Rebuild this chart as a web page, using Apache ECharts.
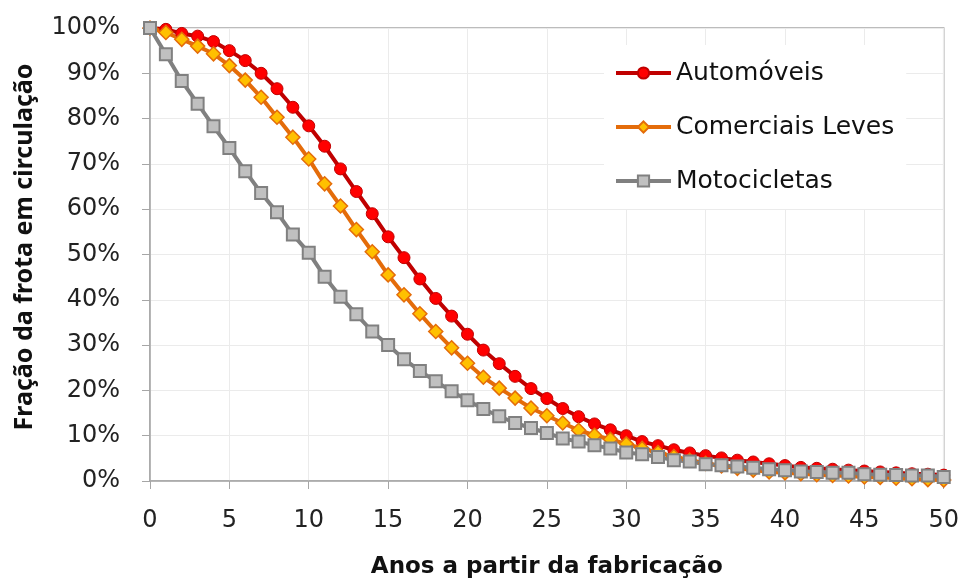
<!DOCTYPE html>
<html>
<head>
<meta charset="utf-8">
<script src="https://cdn.jsdelivr.net/npm/echarts@6/dist/echarts.min.js"></script>
<style>
  html, body { margin: 0; padding: 0; background: #fff; }
  #chart { width: 962px; height: 584px; }
</style>
</head>
<body>
<div id="chart"></div>
<script>
// anos 0..50
var anos = [];
for (var i = 0; i <= 50; i++) anos.push(i);

// fração da frota em circulação (%)
var automoveis = [100, 99.7, 98.8, 98.2, 97.0, 95.0, 92.8, 90.0, 86.6, 82.5,
  78.4, 73.9, 68.9, 63.9, 59.0, 53.9, 49.3, 44.6, 40.3, 36.4,
  32.4, 28.9, 25.9, 23.1, 20.4, 18.2, 16.0, 14.2, 12.6, 11.3,
  10.0, 8.7, 7.8, 6.9, 6.2, 5.6, 5.1, 4.6, 4.2, 3.8,
  3.4, 3.0, 2.8, 2.6, 2.4, 2.2, 2.0, 1.8, 1.6, 1.5, 1.3];
var comerciaisLeves = [100, 99.0, 97.5, 96.0, 94.3, 91.7, 88.5, 84.7, 80.3, 75.9,
  71.1, 65.6, 60.7, 55.5, 50.6, 45.5, 41.1, 36.9, 33.0, 29.4,
  26.0, 22.9, 20.5, 18.3, 16.1, 14.4, 12.8, 11.2, 10.1, 9.2,
  8.2, 7.2, 6.3, 5.4, 4.6, 3.9, 3.3, 2.8, 2.4, 2.0,
  1.8, 1.6, 1.4, 1.2, 1.1, 0.9, 0.8, 0.6, 0.5, 0.3, 0.2];
var motocicletas = [100, 94.2, 88.3, 83.3, 78.3, 73.5, 68.4, 63.6, 59.3, 54.4,
  50.4, 45.1, 40.7, 36.8, 33.0, 30.0, 26.9, 24.3, 22.0, 19.8,
  17.8, 15.9, 14.3, 12.8, 11.7, 10.6, 9.4, 8.7, 7.9, 7.2,
  6.3, 5.9, 5.3, 4.6, 4.3, 3.7, 3.5, 3.2, 2.9, 2.6,
  2.4, 2.1, 2.0, 1.8, 1.8, 1.5, 1.4, 1.3, 1.2, 1.2, 0.9];

function pares(vals) {
  return anos.map(function (a, i) { return [a, vals[i]]; });
}

var myChart = echarts.init(document.getElementById("chart"));
var fonte = "DejaVu Sans";
var option = {
  animation: false,
  backgroundColor: "#fff",
  grid: {
    left: 150,
    right: 17,
    top: 28,
    bottom: 102,
    show: true,
    borderColor: "#A6A6A6",
    borderWidth: 1.5,
  },
  legend: {
    left: 604,
    top: 45,
    orient: "vertical",
    backgroundColor: "#fff",
    padding: [14, 12, 14, 10],
    itemWidth: 55,
    itemHeight: 14,
    itemGap: 26,
    lineStyle: { width: 4 },
    textStyle: { fontFamily: fonte, fontSize: 25, color: "#111", lineHeight: 28 },
    data: ["Automóveis", "Comerciais Leves", "Motocicletas"],
  },
  xAxis: {
    type: "value",
    min: 0,
    max: 50,
    interval: 5,
    name: "Anos a partir da fabricação",
    nameLocation: "middle",
    nameGap: 75,
    nameTextStyle: { fontFamily: fonte, fontSize: 23, fontWeight: "bold", color: "#111" },
    axisLine: { lineStyle: { color: "#A6A6A6", width: 1.5 } },
    axisTick: { show: true, length: 8, lineStyle: { color: "#A6A6A6" } },
    axisLabel: { fontFamily: fonte, fontSize: 24, color: "#222", margin: 28 },
    splitLine: { show: true, lineStyle: { color: "#EBEBEB", width: 1 } },
  },
  yAxis: {
    type: "value",
    min: 0,
    max: 100,
    interval: 10,
    axisLine: { show: true, lineStyle: { color: "#A6A6A6", width: 1.5 } },
    axisTick: { show: true, length: 8, lineStyle: { color: "#A6A6A6" } },
    axisLabel: { fontFamily: fonte, fontSize: 24, color: "#222", margin: 30, formatter: "{value}%" },
    splitLine: { show: true, lineStyle: { color: "#EBEBEB", width: 1 } },
  },
  graphic: [
    {
      type: "text",
      x: 25,
      y: 247,
      rotation: Math.PI / 2,
      style: {
        text: "Fração da frota em circulação",
        fontFamily: "Noto Sans",
        fontSize: 25,
        fontWeight: "bold",
        fill: "#111",
        align: "center",
        verticalAlign: "middle",
      },
    },
  ],
  series: [
    {
      name: "Automóveis",
      type: "line",
      data: pares(automoveis),
      symbol: "circle",
      symbolSize: 12,
      lineStyle: { color: "#C00000", width: 4 },
      itemStyle: { color: "#FF0000", borderColor: "#C00000", borderWidth: 1 },
    },
    {
      name: "Comerciais Leves",
      type: "line",
      data: pares(comerciaisLeves),
      symbol: "diamond",
      symbolSize: 14,
      lineStyle: { color: "#E46C0A", width: 4 },
      itemStyle: { color: "#FFC000", borderColor: "#E46C0A", borderWidth: 1.5 },
    },
    {
      name: "Motocicletas",
      type: "line",
      data: pares(motocicletas),
      symbol: "rect",
      symbolSize: 12,
      lineStyle: { color: "#808080", width: 4 },
      itemStyle: { color: "#C0C0C0", borderColor: "#808080", borderWidth: 2 },
    },
  ],
};
myChart.setOption(option);
</script>
</body>
</html>
